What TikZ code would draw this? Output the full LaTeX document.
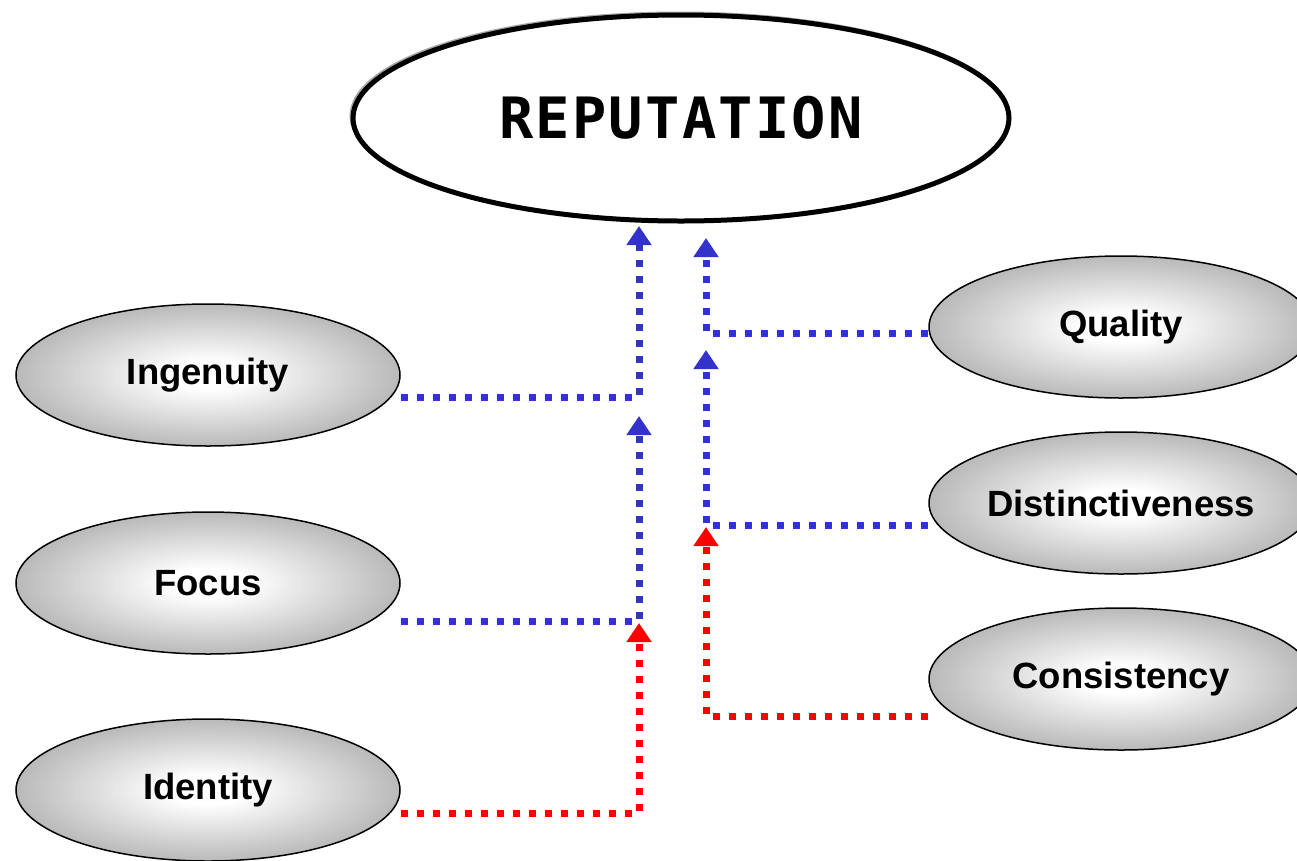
\documentclass[tikz,border=0pt]{standalone}
\usepackage{fontspec}
\setmainfont{Liberation Sans}
\newfontfamily\repfont[LetterSpace=4]{DejaVu Sans Mono}
\usetikzlibrary{shapes.geometric,arrows.meta}
\definecolor{lineblue}{HTML}{3333CC}
\definecolor{linered}{HTML}{FF0000}
\definecolor{shgray}{HTML}{8C8C8C}
\pgfdeclareradialshading{ellshade}{\pgfpoint{0bp}{0bp}}{color(0bp)=(white); color(5bp)=(white); color(38bp)=(shgray); color(50bp)=(shgray); color(100bp)=(shgray)}
\begin{document}
\begin{tikzpicture}[x=1pt,y=-1pt,
  factor/.style={ellipse, draw=black, line width=1.5pt, shading=ellshade,
    minimum width=384pt, minimum height=142pt, inner sep=0pt,
    font=\fontsize{36.5}{40}\selectfont\bfseries},
  repnode/.style={ellipse, draw=black, line width=5pt, fill=white,
    minimum width=656pt, minimum height=206pt, inner sep=0pt,
    font=\repfont\fontsize{57}{60}\selectfont\bfseries},
  link/.style={line width=7pt, line cap=butt, dash pattern=on 7pt off 9pt,
    -{Triangle[width=24pt,length=19pt]}},
  bluelink/.style={link, draw=lineblue},
  redlink/.style={link, draw=linered}]
\useasboundingbox (0,0) rectangle (1297,860);
% shadow of reputation ellipse
\draw[gray!70, line width=3pt] (679,116) ellipse [x radius=328pt, y radius=103pt];
\node[repnode] (rep) at (681,118) {REPUTATION};

\node[factor] (ing) at (208,375) {Ingenuity};
\node[factor] (foc) at (208,583) {Focus};
\node[factor] (ide) at (208,790) {Identity};
\node[factor] (qua) at (1121,327) {Quality};
\node[factor] (dis) at (1121,503) {Distinctiveness};
\node[factor] (con) at (1121,679) {Consistency};

\coordinate (t1) at (639,226);
\coordinate (t2) at (639,416);
\coordinate (t3) at (639,623);
\coordinate (t4) at (706,238);
\coordinate (t5) at (706,350);
\coordinate (t6) at (706,527);

\draw[bluelink] ([yshift=-22pt]ing.east) -| (t1);
\draw[bluelink] ([yshift=-38pt]foc.east) -| (t2);
\draw[redlink]  ([yshift=-23pt]ide.east) -| (t3);
\draw[bluelink] ([yshift=-6pt]qua.west) -| (t4);
\draw[bluelink] ([yshift=-22pt]dis.west) -| (t5);
\draw[redlink]  ([yshift=-37pt]con.west) -| (t6);
\end{tikzpicture}
\end{document}
